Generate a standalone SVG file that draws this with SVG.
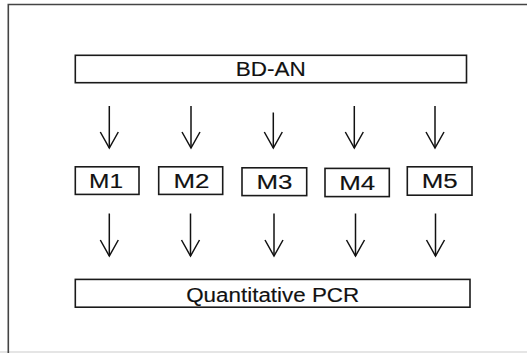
<svg xmlns="http://www.w3.org/2000/svg" width="527" height="353" viewBox="0 0 527 353">
<style>
.box{fill:#fff;stroke:#1a1a1a;stroke-width:1.6}
.lbl{font-family:"Liberation Sans",Arial,Helvetica,sans-serif;font-size:20px;fill:#111;text-anchor:middle;stroke:#111;stroke-width:0.15}
.arr{stroke:#111;stroke-width:1.5;fill:none}
</style>
<defs>
<marker id="ah" markerUnits="userSpaceOnUse" markerWidth="24" markerHeight="24" viewBox="-20 -12 24 24" refX="0" refY="0" orient="auto" overflow="visible">
<path d="M-16,-9 L0,0 L-16,9" fill="none" stroke="#111" stroke-width="1.5"/>
</marker>
</defs>
<rect x="0" y="0" width="527" height="353" fill="#fff"/>
<g id="frame">
<line x1="0" y1="352" x2="527" y2="352" stroke="#dcdcdc" stroke-width="1.5"/>
<path d="M527,4.5 H8.3 V353" fill="none" stroke="#444" stroke-width="1.6"/>
</g>
<g id="bdan">
<rect class="box" x="75.3" y="55.3" width="391.2" height="27.4"/>
<text class="lbl" x="270.8" y="76.2" textLength="70" lengthAdjust="spacingAndGlyphs">BD-AN</text>
</g>
<g id="m1">
<rect class="box" x="75.3" y="166.8" width="63.7" height="27.6"/>
<text class="lbl" x="106" y="187.5" textLength="34" lengthAdjust="spacingAndGlyphs">M1</text>
</g>
<g id="m2">
<rect class="box" x="158.7" y="166.8" width="64" height="27.6"/>
<text class="lbl" x="191.5" y="187.7" textLength="36" lengthAdjust="spacingAndGlyphs">M2</text>
</g>
<g id="m3">
<rect class="box" x="242" y="167.8" width="64.7" height="27.8"/>
<text class="lbl" x="274.5" y="188.7" textLength="36" lengthAdjust="spacingAndGlyphs">M3</text>
</g>
<g id="m4">
<rect class="box" x="325" y="168.4" width="64.3" height="28.2"/>
<text class="lbl" x="357.2" y="189.5" textLength="36" lengthAdjust="spacingAndGlyphs">M4</text>
</g>
<g id="m5">
<rect class="box" x="407.3" y="166.8" width="64.7" height="28.4"/>
<text class="lbl" x="439.7" y="188" textLength="36" lengthAdjust="spacingAndGlyphs">M5</text>
</g>
<g id="qpcr">
<rect class="box" x="75.3" y="279.4" width="394.7" height="27.8"/>
<text class="lbl" x="272.7" y="301.9" textLength="173" lengthAdjust="spacingAndGlyphs">Quantitative PCR</text>
</g>
<g id="connectors">
<line class="arr" x1="109.3" y1="106" x2="109.3" y2="148" marker-end="url(#ah)"/>
<line class="arr" x1="191" y1="106" x2="191" y2="148" marker-end="url(#ah)"/>
<line class="arr" x1="273.3" y1="112.5" x2="273.3" y2="148" marker-end="url(#ah)"/>
<line class="arr" x1="354.3" y1="106" x2="354.3" y2="148" marker-end="url(#ah)"/>
<line class="arr" x1="435" y1="106" x2="435" y2="148" marker-end="url(#ah)"/>
<line class="arr" x1="109.3" y1="213.5" x2="109.3" y2="256" marker-end="url(#ah)"/>
<line class="arr" x1="190.5" y1="213.5" x2="190.5" y2="256" marker-end="url(#ah)"/>
<line class="arr" x1="274" y1="213.5" x2="274" y2="256" marker-end="url(#ah)"/>
<line class="arr" x1="355.5" y1="213.5" x2="355.5" y2="256" marker-end="url(#ah)"/>
<line class="arr" x1="435.5" y1="213.5" x2="435.5" y2="256" marker-end="url(#ah)"/>
</g>
</svg>
